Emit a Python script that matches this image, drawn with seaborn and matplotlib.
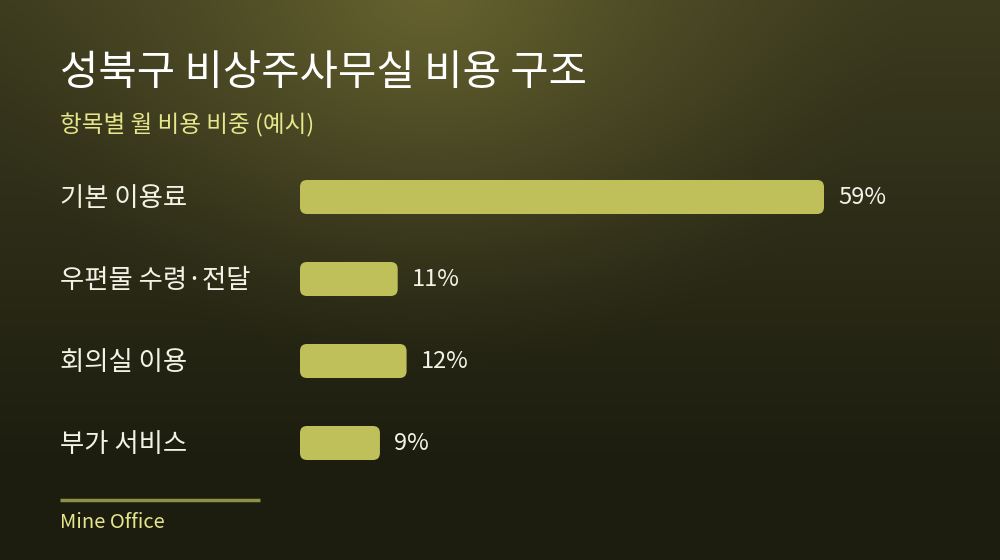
import numpy as np
import pandas as pd
import matplotlib
matplotlib.use("Agg")
import matplotlib.pyplot as plt
from matplotlib.patches import FancyBboxPatch
import seaborn as sns

categories = ["기본 이용료", "우편물 수령·전달", "회의실 이용", "부가 서비스"]
shares = [59, 11, 12, 9]
value_labels = ["59%", "11%", "12%", "9%"]

title = "성북구 비상주사무실 비용 구조"
subtitle = "항목별 월 비용 비중 (예시)"
source = "Mine Office"

sns.set_theme(style="white")
plt.rcParams["font.family"] = ["Noto Sans CJK KR", "DejaVu Sans"]

W, H = 1000, 560
fig = plt.figure(figsize=(W / 100, H / 100), dpi=100)


def rgb(h):
    h = h.lstrip("#")
    return np.array([int(h[i:i + 2], 16) / 255 for i in (0, 2, 4)])


# background: dark vertical fade plus an olive glow near the top
bg = fig.add_axes([0, 0, 1, 1])
yy, xx = np.mgrid[0:H, 0:W].astype(float)
t = np.clip(yy / 480.0, 0, 1)[..., None]
base = rgb("#3c3b1f") * (1 - t) + rgb("#1c1c0f") * t
r = np.sqrt(((xx - 430) / 480.0) ** 2 + ((yy + 10) / 380.0) ** 2)
g = (np.clip(1 - r, 0, 1) ** 1.4)[..., None]
img = base * (1 - g) + rgb("#67632f") * g
bg.imshow(np.clip(img, 0, 1), aspect="auto", extent=[0, W, H, 0])
bg.set_xlim(0, W)
bg.set_ylim(H, 0)
bg.axis("off")

# chart axes
px_per_unit = 524 / 59
ax_left, ax_w = 300, 600
top_px, bot_px = 156, 484
ax = fig.add_axes([ax_left / W, 1 - bot_px / H, ax_w / W, (bot_px - top_px) / H])
ax.patch.set_alpha(0)

df = pd.DataFrame({"item": categories, "share": shares})
sns.barplot(data=df, x="share", y="item", ax=ax, color="#c0c05a",
            width=0.415, orient="h")
ax.set_xlim(0, ax_w / px_per_unit)
ax.set_ylim(3.5, -0.5)

# replace bars with rounded ones
x_units_per_px = 1 / px_per_unit
y_units_per_px = 4 / (bot_px - top_px)
for p in list(ax.patches):
    x0, y0, w, h = p.get_x(), p.get_y(), p.get_width(), p.get_height()
    p.remove()
    ax.add_patch(FancyBboxPatch(
        (x0, y0), w, h,
        boxstyle="round,pad=0,rounding_size=%f" % (7 * x_units_per_px),
        mutation_aspect=y_units_per_px / x_units_per_px,
        facecolor="#c0c05a", edgecolor="none"))

for i, (v, lab) in enumerate(zip(shares, value_labels)):
    ax.annotate(lab, (v, i), xytext=(10, 0), textcoords="offset points",
                va="center", ha="left", color="#f2f2e6", fontsize=17)

ax.set_xlabel("")
ax.set_ylabel("")
ax.set_xticks([])
ax.set_yticks([])
sns.despine(ax=ax, left=True, bottom=True)

# category labels at left
for i, c in enumerate(categories):
    fig.text(60 / W, 1 - (197 + 82 * i + 1) / H, c, color="#f2f2e6",
             fontsize=19, va="center", ha="left")

fig.text(60 / W, 1 - 74 / H, title, color="#ffffff", fontsize=30,
         va="center", ha="left")
fig.text(60 / W, 1 - 125 / H, subtitle, color="#e6e68c", fontsize=17,
         va="center", ha="left")

bg.plot([60, 260], [500, 500], color="#8f8f48", lw=2.5, solid_capstyle="butt")
fig.text(60 / W, 1 - 522 / H, source, color="#e6e68c", fontsize=14.5,
         va="center", ha="left")

fig.savefig("out.png", dpi=100)
